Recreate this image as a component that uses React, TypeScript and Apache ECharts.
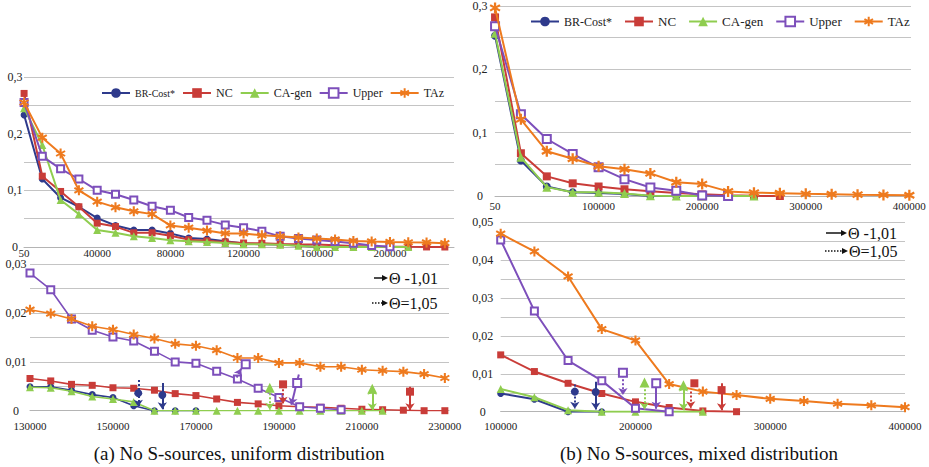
import React, { useEffect, useRef } from 'react';
import * as echarts from 'echarts';

// ---------- DATA ----------
const seriesNames = ['BR-Cost*', 'NC', 'CA-gen', 'Upper', 'TAz'];

// (a) uniform distribution – full range
const xUniformAll = [50, 10000, 20000, 30000, 40000, 50000, 60000, 70000, 80000, 90000, 100000, 110000, 120000, 130000, 140000, 150000, 160000, 170000, 180000, 190000, 200000, 210000, 220000, 230000];
const brUniformAll = [0.233, 0.12, 0.087, 0.071, 0.051, 0.038, 0.03, 0.03, 0.024, 0.016, 0.014, 0.01, 0.006, 0.005, 0.0042, 0.0028, 0, 0];
const ncUniformAll = [0.271, 0.125, 0.098, 0.071, 0.042, 0.036, 0.025, 0.025, 0.02, 0.013, 0.011, 0.009, 0.007, 0.0066, 0.0054, 0.0047, 0.0042, 0.0031, 0.0017, 0.001, 0.0006, 0.0003, 0.0001, 0];
const caUniformAll = [0.245, 0.18, 0.083, 0.058, 0.03, 0.025, 0.019, 0.016, 0.012, 0.01, 0.009, 0.007, 0.005, 0.0048, 0.004, 0.0024, 0, 0, 0, 0, 0, 0];
const upUniformAll = [0.255, 0.16, 0.138, 0.12, 0.1, 0.093, 0.083, 0.072, 0.065, 0.052, 0.047, 0.039, 0.034, 0.028, 0.0188, 0.0151, 0.0122, 0.0097, 0.0065, 0.0027, 0.0005];
const tazUniformAll = [0.255, 0.193, 0.165, 0.1, 0.08, 0.07, 0.063, 0.058, 0.038, 0.034, 0.029, 0.024, 0.024, 0.0207, 0.0188, 0.0166, 0.0148, 0.0133, 0.0108, 0.0098, 0.009, 0.0084, 0.008, 0.0067];

// (a) uniform distribution – zoom 130000..230000
const xUniformZoom = [130000, 135000, 140000, 145000, 150000, 155000, 160000, 165000, 170000, 175000, 180000, 185000, 190000, 195000, 200000, 205000, 210000, 215000, 220000, 225000, 230000];
const brUniformZoom = [0.0049, 0.0049, 0.0042, 0.0033, 0.0027, 0.001, 0, 0, 0];
const ncUniformZoom = [0.0066, 0.0061, 0.0054, 0.0052, 0.0047, 0.0046, 0.0042, 0.0035, 0.0031, 0.0024, 0.0017, 0.0014, 0.001, 0.0008, 0.0007, 0.0005, 0.0003, 0.0002, 0.0001, 0, 0];
const caUniformZoom = [0.0048, 0.0047, 0.004, 0.0029, 0.0024, 0.0018, 0, 0, 0, 0, 0, 0, 0, 0, 0, 0, 0, 0];
const upUniformZoom = [0.0282, 0.0248, 0.0188, 0.0165, 0.0151, 0.0143, 0.0122, 0.01, 0.0097, 0.0081, 0.0065, 0.0046, 0.0027, 0.0008, 0.0005, 0.0002];
const tazUniformZoom = [0.0207, 0.0199, 0.0188, 0.0173, 0.0166, 0.0156, 0.0148, 0.0137, 0.0133, 0.0124, 0.0108, 0.0108, 0.0098, 0.0098, 0.009, 0.009, 0.0084, 0.0082, 0.008, 0.0075, 0.0067];

// (b) mixed distribution – full range
const xMixedAll = [50, 25000, 50000, 75000, 100000, 125000, 150000, 175000, 200000, 225000, 250000, 275000, 300000, 325000, 350000, 375000, 400000];
const brMixedAll = [0.253, 0.056, 0.015, 0.006, 0.0048, 0.0033, 0, 0];
const ncMixedAll = [0.282, 0.0675, 0.031, 0.02, 0.015, 0.0106, 0.0075, 0.0048, 0.0026, 0.0011, 0.0002, 0];
const caMixedAll = [0.257, 0.061, 0.014, 0.006, 0.006, 0.0038, 0.0004, 0, 0, 0, 0];
const upMixedAll = [0.268, 0.129, 0.09, 0.0665, 0.0453, 0.0266, 0.0135, 0.0082, 0.0009, 0];
const tazMixedAll = [0.297, 0.121, 0.0706, 0.0587, 0.047, 0.0423, 0.0357, 0.0218, 0.0188, 0.0073, 0.0053, 0.0044, 0.0034, 0.0028, 0.0021, 0.0017, 0.0012];

// (b) mixed distribution – zoom 100000..400000
const xMixedZoom = [100000, 125000, 150000, 175000, 200000, 225000, 250000, 275000, 300000, 325000, 350000, 375000, 400000];
const brMixedZoom = [0.0048, 0.0033, 0, 0];
const ncMixedZoom = [0.015, 0.0106, 0.0075, 0.0048, 0.0026, 0.0011, 0.0002, 0];
const caMixedZoom = [0.006, 0.0038, 0.0004, 0, 0, 0, 0];
const upMixedZoom = [0.0453, 0.0266, 0.0135, 0.0082, 0.0009, 0];
const tazMixedZoom = [0.047, 0.0423, 0.0357, 0.0218, 0.0188, 0.0073, 0.0053, 0.0044, 0.0034, 0.0028, 0.0021, 0.0017, 0.0012];

// Θ markers with arrows (data coordinates): series, style, marker, arrow from, arrow to
const thetaUniform = [
  { s: 'BR', style: 'dotted', mark: [156100, 0.0036], from: [156100, 0.0063], to: [156100, 0.0008] },
  { s: 'BR', style: 'solid', mark: [161900, 0.0032], from: [161900, 0.0057], to: [161900, 0.0003] },
  { s: 'UP', style: 'dotted', mark: [182000, 0.0095], from: [179800, 0.0068], to: [180900, 0.0086] },
  { s: 'CA', style: 'dotted', mark: [187800, 0.0047], from: [187800, 0.0052], to: [187800, 0.0002] },
  { s: 'NC', style: 'dotted', mark: [191000, 0.0054], from: [191000, 0.0052], to: [191000, 0.0014] },
  { s: 'UP', style: 'solid', mark: [194400, 0.0057], from: [194800, 0.0074], to: [193000, 0.0012] },
  { s: 'CA', style: 'double', mark: [212500, 0.0045], from: [212500, 0.0047], to: [212500, 0.0001] },
  { s: 'NC', style: 'solid', mark: [221600, 0.0039], from: [221600, 0.0049], to: [221600, 0.0001] },
];
const thetaMixed = [
  { s: 'BR', style: 'dotted', mark: [155000, 0.0053], from: [155000, 0.0072], to: [155000, 0.0008] },
  { s: 'BR', style: 'solid', mark: [170500, 0.0052], from: [170500, 0.0079], to: [170500, 0.0006] },
  { s: 'UP', style: 'dotted', mark: [190700, 0.0103], from: [190700, 0.0096], to: [190700, 0.0044] },
  { s: 'CA', style: 'dotted', mark: [206700, 0.0077], from: [206700, 0.007], to: [206700, 0.0006] },
  { s: 'UP', style: 'solid', mark: [215400, 0.0075], from: [215400, 0.007], to: [215400, 0.0008] },
  { s: 'CA', style: 'double', mark: [235600, 0.007], from: [235600, 0.0072], to: [235600, 0.0004] },
  { s: 'NC', style: 'dotted', mark: [243700, 0.0075], from: [241000, 0.0053], to: [241000, 0.0009] },
  { s: 'NC', style: 'solid', mark: [263900, 0.0057], from: [263900, 0.0075], to: [263900, 0.0004] },
];

const captionA = '(a) No S-sources, uniform distribution';
const captionB = '(b) No S-sources, mixed distribution';
const thetaSolidLabel = 'Θ -1,01';
const thetaDottedLabel = 'Θ=1,05';

// ---------- STYLE ----------
const FONT = 'Liberation Serif';
const STAR =
  'path://M-2,-10L2,-10L2,10L-2,10Z M9.66,3.27L7.66,6.73L-9.66,-3.27L-7.66,-6.73Z M-7.66,6.73L-9.66,3.27L7.66,-6.73L9.66,-3.27Z';
const colors: Record<string, string> = { BR: '#2e3a8c', NC: '#c93c38', CA: '#8fcd4f', UP: '#7d4fbb', TAZ: '#ee7a1e' };
const symbols: Record<string, string> = { BR: 'circle', NC: 'rect', CA: 'triangle', UP: 'emptyRect', TAZ: STAR };
const keys = ['BR', 'NC', 'CA', 'UP', 'TAZ'];

function zip(xs: number[], ys: number[]) {
  return ys.map((y, i) => [xs[i], y]);
}

function lineSeries(gi: number, xs: number[], lists: number[][], size: number, width: number) {
  return lists.map((ys, k) => {
    const key = keys[k];
    return {
      type: 'line',
      name: seriesNames[k],
      xAxisIndex: gi,
      yAxisIndex: gi,
      data: zip(xs, ys),
      symbol: symbols[key],
      symbolSize: key === 'TAZ' ? size + 3 : key === 'CA' ? size + 1 : size,
      showSymbol: true,
      itemStyle: { color: colors[key], borderColor: colors[key], borderWidth: key === 'UP' ? 1.6 : 0, opacity: 1 },
      lineStyle: { color: colors[key], width },
      z: 2 + k * 0.1,
    };
  });
}

function thetaSeries(gi: number, list: any[]) {
  const out: any[] = [];
  const mk = (style: string, type: string, sym: string[]) => ({
    type: 'lines',
    coordinateSystem: 'cartesian2d',
    xAxisIndex: gi,
    yAxisIndex: gi,
    symbol: sym,
    symbolSize: 7,
    z: 5,
    lineStyle: { opacity: 1, width: 2 },
    data: list
      .filter((a) => a.style === style)
      .map((a) => ({ coords: [a.from, a.to], lineStyle: { color: colors[a.s], width: 2, type, opacity: 1 } })),
  });
  out.push(mk('solid', 'solid', ['none', 'arrow']));
  out.push(mk('dotted', 'dotted', ['none', 'arrow']));
  out.push(mk('double', 'solid', ['arrow', 'arrow']));
  out.push({
    type: 'scatter',
    xAxisIndex: gi,
    yAxisIndex: gi,
    z: 6,
    itemStyle: { opacity: 1 },
    data: list.map((a) => ({
      value: a.mark,
      symbol: symbols[a.s],
      symbolSize: a.s === 'CA' ? 10 : 8,
      itemStyle: { color: colors[a.s], borderColor: colors[a.s], borderWidth: a.s === 'UP' ? 1.8 : 0, opacity: 1 },
    })),
  });
  return out;
}

function yFmt(step: number, digits: number) {
  return (v: number) => {
    const k = Math.round(v / step);
    if (k % 2 !== 0) return '';
    if (k === 0) return '0';
    return (k * step).toFixed(digits).replace('.', ',');
  };
}

const gridLine = { show: true, lineStyle: { color: '#c4c4c4', width: 1 } };

function yAxis(gi: number, max: number, step: number, digits: number, margin: number) {
  return {
    type: 'value',
    gridIndex: gi,
    min: 0,
    max,
    interval: step,
    axisLine: { show: false },
    axisTick: { show: false },
    splitLine: gridLine,
    axisLabel: {
      formatter: yFmt(step, digits),
      align: 'center',
      margin,
      fontFamily: FONT,
      fontSize: 12,
      lineHeight: 10,
      color: '#222',
    },
  };
}

function xAxis(gi: number, min: number, max: number, interval: number, lastLabel: number, margin: number, firstAs50: boolean) {
  return {
    type: 'value',
    gridIndex: gi,
    min,
    max,
    interval,
    axisLine: { show: true, lineStyle: { color: '#b4b4b4', width: 1 } },
    axisTick: { show: false },
    splitLine: { show: false },
    axisLabel: {
      margin,
      fontFamily: FONT,
      fontSize: 11,
      lineHeight: 10,
      color: '#222',
      showMaxLabel: true,
      showMinLabel: true,
      formatter: (v: number) => {
        if (v > lastLabel) return '';
        if ((v - min) % interval !== 0) return '';
        if (firstAs50 && v === 0) return '50';
        return String(v);
      },
    },
  };
}

function arrowLegend(x: number, y: number, dotted: boolean, label: string, len: number) {
  return {
    type: 'group',
    children: [
      {
        type: 'line',
        shape: { x1: x, y1: y, x2: x + len - 5, y2: y },
        style: { stroke: '#111', lineWidth: 1.5, lineDash: dotted ? [1.5, 1.5] : null },
      },
      {
        type: 'polygon',
        shape: { points: [[x + len - 6, y - 3], [x + len, y], [x + len - 6, y + 3]] },
        style: { fill: '#111' },
      },
      {
        type: 'text',
        x: x + len + 1,
        y,
        style: { text: label, fontFamily: FONT, fontSize: 16, fill: '#111', verticalAlign: 'middle', align: 'left' },
      },
    ],
  };
}

function legend(left: number, top: number, gap: number, fontSize: number, brSize: number) {
  return {
    left,
    top,
    padding: 0,
    orient: 'horizontal',
    data: seriesNames,
    itemWidth: 28,
    itemHeight: 12,
    itemGap: gap,
    selectedMode: false,
    formatter: (name: string) => (name === 'BR-Cost*' ? '{s|' + name + '}' : name),
    textStyle: {
      fontFamily: FONT,
      fontSize,
      color: '#222',
      rich: { s: { fontFamily: FONT, fontSize: brSize, color: '#222' } },
    },
  };
}

export default function App() {
  const ref = useRef<HTMLDivElement>(null);
  useEffect(() => {
    if (!ref.current) return;
    const chart = echarts.init(ref.current, null, { renderer: 'svg' });
    const option: any = {
      animation: false,
      backgroundColor: '#fff',
      textStyle: { fontFamily: FONT },
      grid: [
        { left: 24, top: 77, width: 430, height: 170 },
        { left: 30, top: 264.3, width: 419, height: 146.4 },
        { left: 495, top: 3.4, width: 416, height: 192.6 },
        { left: 500.7, top: 222.3, width: 404.3, height: 189.4 },
      ],
      xAxis: [
        xAxis(0, 0, 235000, 40000, 200000, 1, true),
        xAxis(1, 130000, 231000, 20000, 230000, 10, false),
        xAxis(2, 0, 401600, 100000, 400000, 5, true),
        xAxis(3, 100000, 400000, 100000, 400000, 9, false),
      ],
      yAxis: [
        yAxis(0, 0.3, 0.05, 1, 9),
        yAxis(1, 0.03, 0.005, 2, 14),
        yAxis(2, 0.3, 0.05, 1, 15),
        yAxis(3, 0.05, 0.005, 2, 18),
      ],
      legend: [legend(101, 87, 7, 12, 10), legend(530, 15, 12, 13, 12)],
      series: [
        ...lineSeries(0, xUniformAll, [brUniformAll, ncUniformAll, caUniformAll, upUniformAll, tazUniformAll], 7, 2),
        ...lineSeries(1, xUniformZoom, [brUniformZoom, ncUniformZoom, caUniformZoom, upUniformZoom, tazUniformZoom], 7, 1.6),
        ...lineSeries(2, xMixedAll, [brMixedAll, ncMixedAll, caMixedAll, upMixedAll, tazMixedAll], 8, 2),
        ...lineSeries(3, xMixedZoom, [brMixedZoom, ncMixedZoom, caMixedZoom, upMixedZoom, tazMixedZoom], 7, 2),
        ...thetaSeries(1, thetaUniform),
        ...thetaSeries(3, thetaMixed),
      ],
      graphic: [
        arrowLegend(374, 278, false, thetaSolidLabel, 14),
        arrowLegend(372, 303, true, thetaDottedLabel, 16),
        arrowLegend(826, 233, false, thetaSolidLabel, 21),
        arrowLegend(825, 251, true, thetaDottedLabel, 23),
        {
          type: 'text',
          x: 239,
          y: 453,
          style: { text: captionA, fontFamily: FONT, fontSize: 19, fill: '#111', align: 'center', verticalAlign: 'middle' },
        },
        {
          type: 'text',
          x: 699,
          y: 453,
          style: { text: captionB, fontFamily: FONT, fontSize: 19, fill: '#111', align: 'center', verticalAlign: 'middle' },
        },
      ],
    };
    chart.setOption(option);
    return () => chart.dispose();
  }, []);
  return (
    <div
      ref={ref}
      style={{ position: 'absolute', left: 0, top: 0, width: 929, height: 467, background: '#fff' }}
    />
  );
}
